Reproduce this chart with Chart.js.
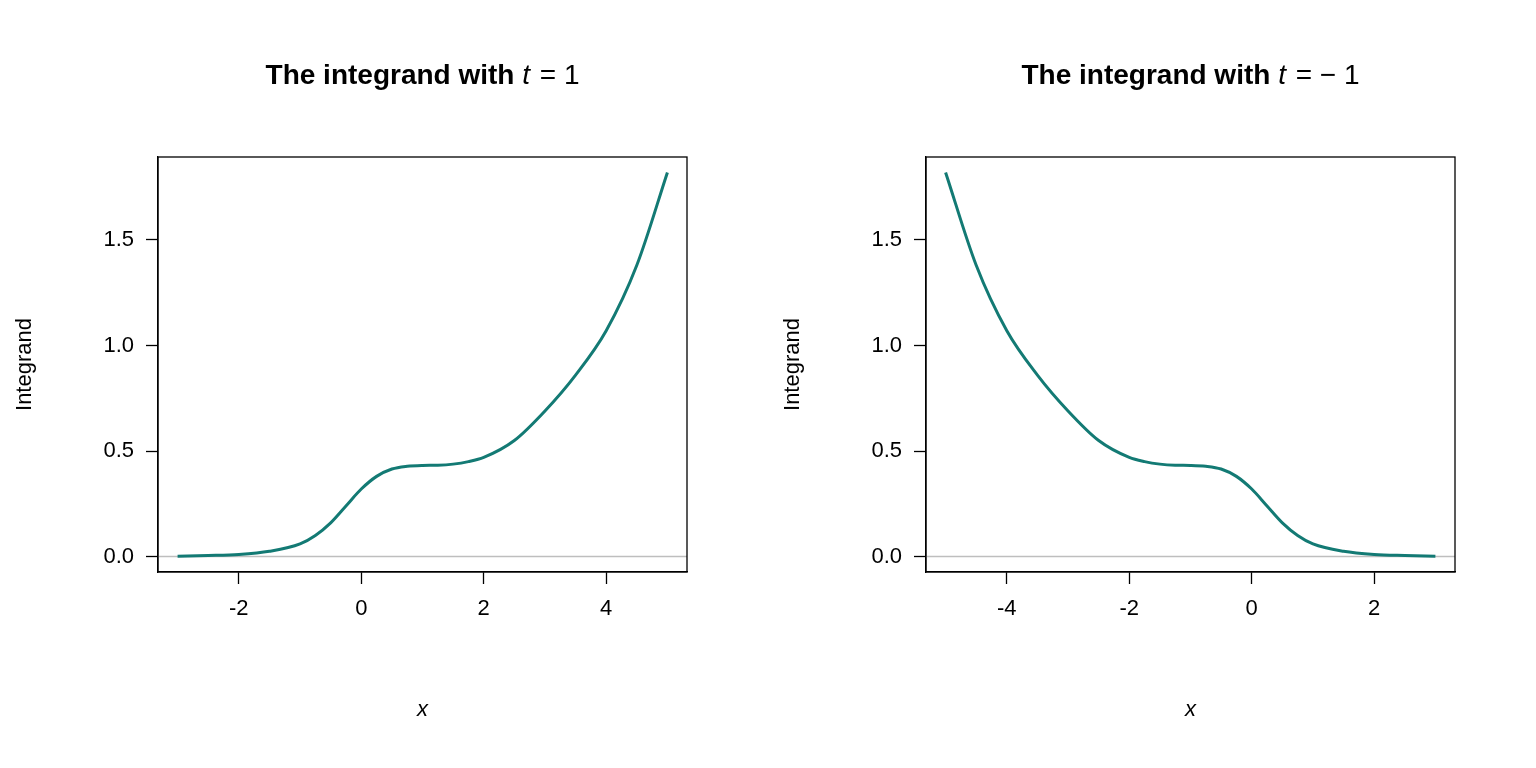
<!DOCTYPE html>
<html><head><meta charset="utf-8">
<script src="https://cdn.jsdelivr.net/npm/chart.js@4"></script>
<style>body{margin:0;background:#fff}.w{position:absolute;top:0;width:768px;height:768px}</style>
</head><body>
<div class="w" style="left:0"><canvas id="c1" width="768" height="768"></canvas></div>
<div class="w" style="left:768px"><canvas id="c2" width="768" height="768"></canvas></div>
<script>
const xVals = [-3,-2.5,-2,-1.5,-1,-0.75,-0.5,-0.25,0,0.25,0.5,0.75,1,1.25,1.5,1.75,2,2.5,3,3.5,4,4.5,5];
const yVals = [0.002,0.005,0.01,0.025,0.06,0.1,0.16,0.24,0.32,0.38,0.415,0.428,0.432,0.433,0.438,0.45,0.47,0.55,0.69,0.86,1.07,1.38,1.82];
const yTicks = [0,0.5,1.0,1.5];
const xTicks1 = [-2,0,2,4];
const xTicks2 = [-4,-2,0,2];
const tVals = ["1","\u2212 1"];
const F = "'Liberation Sans', Arial, sans-serif";

function make(id, sign, xt, tv){
  const pts = xVals.map((x,i)=>({x:sign*x,y:yVals[i]})).sort((a,b)=>a.x-b.x);
  const xmin = sign>0?-3.32:-5.32, xmax = sign>0?5.32:3.32;
  new Chart(document.getElementById(id),{
    type:'scatter',
    data:{datasets:[{data:pts,showLine:true,borderColor:'#137a74',borderWidth:3,pointRadius:0,cubicInterpolationMode:'monotone'}]},
    options:{responsive:false,animation:false,
      layout:{padding:{top:157,right:81,left:0,bottom:0}},
      plugins:{legend:{display:false},tooltip:{enabled:false}},
      scales:{
        x:{type:'linear',min:xmin,max:xmax,afterFit:s=>{s.height=196},
          afterBuildTicks:s=>{s.ticks=xt.map(v=>({value:v}))},
          grid:{drawOnChartArea:false,tickLength:12,color:'#000',tickWidth:1.3},
          border:{color:'#000',width:1.3},
          ticks:{color:'#000',font:{family:F,size:22},padding:12,callback:v=>String(v)}},
        y:{type:'linear',min:-0.073,max:1.893,afterFit:s=>{s.width=158},
          afterBuildTicks:s=>{s.ticks=yTicks.map(v=>({value:v}))},
          grid:{drawOnChartArea:false,tickLength:12,color:'#000',tickWidth:1.3},
          border:{color:'#000',width:1.3},
          ticks:{color:'#000',font:{family:F,size:22},padding:12,callback:v=>v.toFixed(1)}}
      }},
    plugins:[{
      beforeDatasetsDraw(c){
        const ctx=c.ctx,a=c.chartArea,y0=c.scales.y.getPixelForValue(0);
        ctx.save();ctx.strokeStyle='#bebebe';ctx.lineWidth=1.5;
        ctx.beginPath();ctx.moveTo(a.left,y0);ctx.lineTo(a.right,y0);ctx.stroke();ctx.restore();
      },
      afterDraw(c){
        const ctx=c.ctx,a=c.chartArea;
        ctx.save();ctx.strokeStyle='#000';ctx.lineWidth=1.3;
        ctx.strokeRect(a.left,a.top,a.right-a.left,a.bottom-a.top);
        ctx.fillStyle='#000';ctx.textBaseline='middle';
        const p1='The integrand with ',p2='t',p3=' = '+tv;
        ctx.font='bold 28px '+F;const w1=ctx.measureText(p1).width;
        ctx.font='italic 28px '+F;const w2=ctx.measureText(p2).width;
        ctx.font='28px '+F;const w3=ctx.measureText(p3).width;
        let x=(a.left+a.right)/2-(w1+w2+w3+2)/2;const ty=76;
        ctx.textAlign='left';
        ctx.font='bold 28px '+F;ctx.fillText(p1,x,ty);x+=w1;
        ctx.font='italic 28px '+F;ctx.fillText(p2,x,ty);x+=w2+2;
        ctx.font='28px '+F;ctx.fillText(p3,x,ty);
        ctx.textAlign='center';ctx.font='italic 22px '+F;
        ctx.fillText('x',(a.left+a.right)/2,710);
        ctx.translate(25,(a.top+a.bottom)/2);ctx.rotate(-Math.PI/2);
        ctx.font='22px '+F;ctx.fillText('Integrand',0,0);
        ctx.restore();
      }}]
  });
}
make('c1',1,xTicks1,tVals[0]);
make('c2',-1,xTicks2,tVals[1]);
</script></body></html>
